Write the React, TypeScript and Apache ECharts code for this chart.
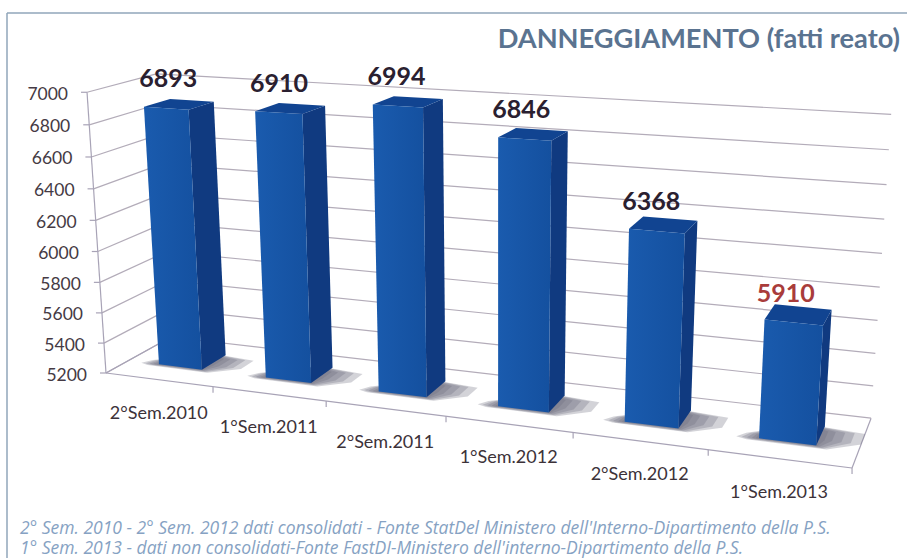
import React, { useEffect, useRef } from "react";
import * as echarts from "echarts";

const titleText = "DANNEGGIAMENTO (fatti reato)";
const categories = ["2°Sem.2010", "1°Sem.2011", "2°Sem.2011", "1°Sem.2012", "2°Sem.2012", "1°Sem.2013"];
const values = [6893, 6910, 6994, 6846, 6368, 5910];
const yTicks = [5200, 5400, 5600, 5800, 6000, 6200, 6400, 6600, 6800, 7000];
const highlighted = "1°Sem.2013";
const captions = [
  "2° Sem. 2010 - 2° Sem. 2012 dati consolidati - Fonte StatDel Ministero dell'Interno-Dipartimento della P.S.",
  "1° Sem. 2013 - dati non consolidati-Fonte FastDI-Ministero dell'interno-Dipartimento della P.S.",
];

const FONT = "Lato, 'Open Sans', sans-serif";
const GRID = "#b3acb9";
const AXIS = "#a8a3b6";

// camera: unit chart box (u along categories, v along values, d into the depth) to the page
function project(u: number, v: number, d: number): [number, number] {
  const w = 1 - 0.1626 * u - 0.0463 * v + 0.0701 * d;
  return [
    (607.5 * u - 23 * v + 77 * d + 106) / w,
    (18.9 * u - 285 * v + 4 * u * v - 12.4 * d + 373) / w,
  ];
}

function unit(params: any, api: any, cat: number, val: number) {
  const p = api.coord([cat, val]);
  const cs = params.coordSys;
  return { u: (p[0] - cs.x) / cs.width, v: (cs.y + cs.height - p[1]) / cs.height };
}

const seg = (a: number[], b: number[], stroke: string, lineWidth = 1.2) => ({
  type: "line",
  silent: true,
  shape: { x1: a[0], y1: a[1], x2: b[0], y2: b[1] },
  style: { stroke, lineWidth, fill: "none" },
});
const poly = (points: number[][], style: any) => ({ type: "polygon", shape: { points }, style });
const label = (x: number, y: number, text: string, style: any) => ({
  type: "text",
  x,
  y,
  style: { text, fontFamily: FONT, verticalAlign: "middle", ...style },
});

const renderWalls = (params: any, api: any) => {
  const { v } = unit(params, api, 0, api.value(1));
  const front = project(0, v, 0);
  const back = project(0, v, 1);
  const right = project(1, v, 1);
  return {
    type: "group",
    children: [
      seg(front, back, GRID),
      seg(back, right, GRID),
      seg([front[0] - 6, front[1]], front, AXIS),
      label(front[0] - 19, front[1] + 1, String(api.value(1)), { fontSize: 17.5, fill: "#453a44", align: "right" }),
    ],
  };
};

const renderFrame = () => {
  const o = project(0, 0, 0);
  const a = project(1, 0, 0);
  const b = project(0, 1, 0);
  const c = project(0, 0, 1);
  const e = project(1, 0, 1);
  return {
    type: "group",
    children: [seg(o, b, AXIS), seg(o, a, AXIS), seg(o, c, AXIS), seg(a, e, AXIS)],
  };
};

const renderCategory = (params: any, api: any) => {
  const i = api.value(0);
  const { u } = unit(params, api, i, yTicks[0]);
  const halfStep = u / (2 * i + 1);
  const tickEnd = project(u + halfStep, 0, 0);
  const mid = project(u, 0, 0);
  const children: any[] = [
    label(mid[0], mid[1] + 32, categories[i], { fontSize: 18, fill: "#3c3239", align: "center" }),
    seg(tickEnd, [tickEnd[0], tickEnd[1] + 6], AXIS),
  ];
  return { type: "group", children };
};

// soft floor shadow: stacked translucent outlines growing away from the bar's foot
const shadowLayers = [0.045, 0.034, 0.024, 0.014, 0.006];

const renderBar = (params: any, api: any) => {
  const i = api.value(0);
  const raw = unit(params, api, i, api.value(1));
  const u = raw.u;
  const v = raw.v * 0.993;
  const hw = 0.034;
  const d0 = 0.33;
  const d1 = 0.72;
  const u0 = u - hw;
  const u1 = u + hw;
  const A = project(u0, 0, d0);
  const B = project(u1, 0, d0);
  const C = project(u1, 0, d1);
  const A2 = project(u0, v, d0);
  const B2 = project(u1, v, d0);
  const C2 = project(u1, v, d1);
  const D2 = project(u0, v, d1);
  const shadows = shadowLayers.map((g) =>
    poly(
      [
        project(u0 - g * 0.6, 0, d0 - g * 0.3),
        project(u0 - g * 0.3, 0, d0 - g),
        project(u1 + g * 0.3, 0, d0 - g * 1.2),
        project(u1 + g * 1.1, 0, d0 + 0.12),
        project(u1 + g * 1.1, 0, d1 - 0.1 + g),
        project(u1 - 0.02, 0, d1),
        project(u0 - g * 0.4, 0, d0 + 0.08),
      ],
      { fill: "rgba(110,110,125,0.3)" }
    )
  );
  return {
    type: "group",
    children: [
      ...shadows,
      poly([B, C, C2, B2], { fill: "#103a80" }),
      poly([A2, B2, C2, D2], { fill: "#114491" }),
      poly([A, B, B2, A2], {
        fill: new echarts.graphic.LinearGradient(0, 0, 1, 0, [
          { offset: 0, color: "#1a5bae" },
          { offset: 1, color: "#14509f" },
        ]),
      }),
    ],
  };
};

const renderValue = (params: any, api: any) => {
  const i = api.value(0);
  const val = api.value(1);
  const { u, v } = unit(params, api, i, val);
  const top = project(0.3 + (u - 0.3) * 0.985, v, 0.33);
  return label(top[0], top[1] - 29, String(val), {
    fontSize: 25,
    fontWeight: "bold",
    align: "center",
    fill: categories[i] === highlighted ? "#a93c3b" : "#2a2030",
  });
};

const byCategory = values.map((val, i) => [i, val]);
const custom = (renderItem: any, data: any[], z: number) => ({
  type: "custom",
  silent: true,
  renderItem,
  data,
  z,
  encode: { x: 0, y: 1 },
});

export default function App() {
  const ref = useRef<HTMLDivElement>(null);
  useEffect(() => {
    document.body.style.margin = "0";
    const chart = echarts.init(ref.current!, undefined, { renderer: "svg" });
    chart.setOption({
      animation: false,
      backgroundColor: "#ffffff",
      title: {
        text: titleText,
        right: 2,
        top: 19,
        textStyle: { fontFamily: FONT, fontSize: 27.2, fontWeight: "bold", color: "#5a7390" },
      },
      grid: { left: 100, right: 100, top: 100, bottom: 100 },
      xAxis: { type: "category", data: categories, show: false },
      yAxis: { type: "value", min: 5200, max: 7000, interval: 200, show: false },
      graphic: [
        { type: "line", shape: { x1: 7, y1: 13, x2: 907, y2: 13 }, style: { stroke: "#90a6ba", lineWidth: 1.5 } },
        { type: "line", shape: { x1: 7, y1: 13, x2: 7, y2: 558 }, style: { stroke: "#90a6ba", lineWidth: 1.5 } },
        ...captions.map((text, i) => ({
          type: "text",
          x: 20,
          y: 527 + i * 20,
          style: {
            text,
            fontFamily: "'Open Sans', sans-serif",
            fontStyle: "italic",
            fontSize: 17.5,
            lineHeight: 18,
            fill: "#86a2c3",
            verticalAlign: "middle",
          },
        })),
      ],
      series: [
        custom(renderWalls, yTicks.map((t) => [0, t]), 1),
        custom(renderFrame, [[0, yTicks[0]]], 2),
        custom(renderCategory, categories.map((_, i) => [i, yTicks[0]]), 3),
        custom(renderBar, byCategory, 4),
        custom(renderValue, byCategory, 5),
      ],
    });
    return () => chart.dispose();
  }, []);
  return <div ref={ref} style={{ width: 907, height: 558 }} />;
}
